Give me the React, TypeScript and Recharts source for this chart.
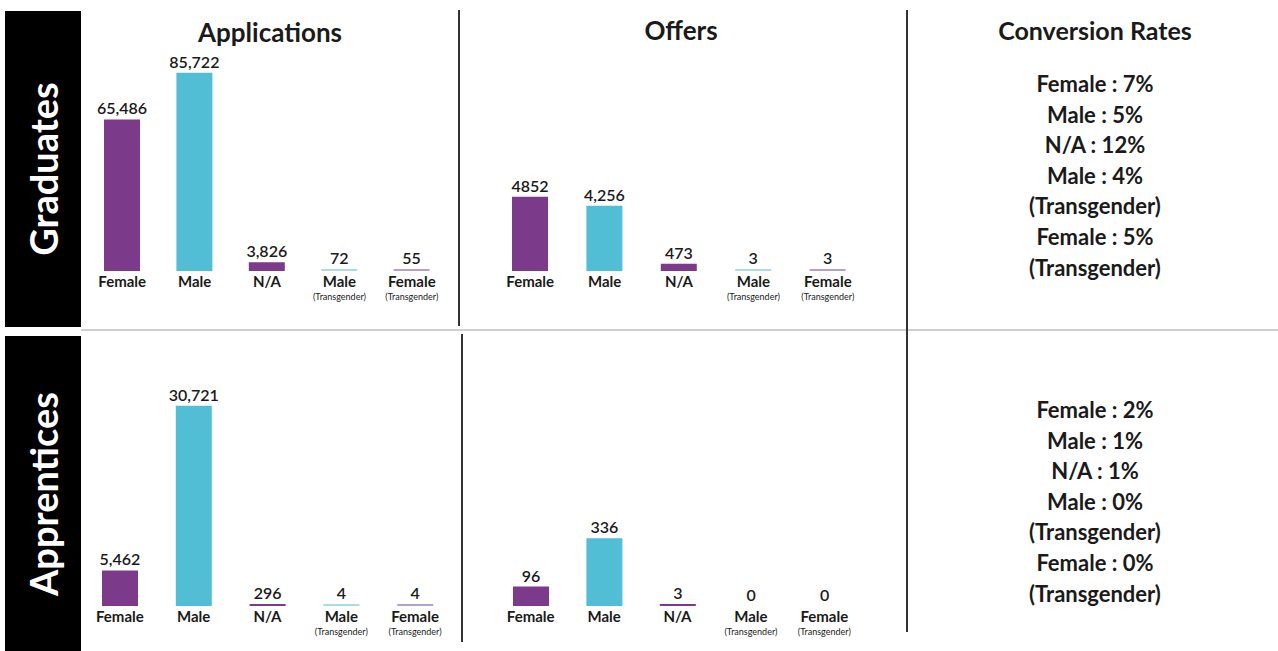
import { BarChart, Bar, XAxis, YAxis, Cell, LabelList } from 'recharts'

const categories = ['Female', 'Male', 'N/A', 'Male (Transgender)', 'Female (Transgender)']
const gradApplications = [65486, 85722, 3826, 72, 55]
const gradOffers = [4852, 4256, 473, 3, 3]
const apprApplications = [5462, 30721, 296, 4, 4]
const apprOffers = [96, 336, 3, 0, 0]
// the offers panel prints 4852 without a thousands separator
const gradOfferLabels = ['4852', '4,256', '473', '3', '3']

const gradRates = ['Female : 7%', 'Male : 5%', 'N/A : 12%', 'Male : 4%', '(Transgender)', 'Female : 5%', '(Transgender)']
const apprRates = ['Female : 2%', 'Male : 1%', 'N/A : 1%', 'Male : 0%', '(Transgender)', 'Female : 0%', '(Transgender)']

const barColors = ['#7b3b8a', '#52bed6', '#7b3b8a', '#a9dce6', '#b6a0c6']
const FONT = 'Lato, "Noto Sans", sans-serif'
const INK = '#1a1a1a'

function CategoryTick(props: any) {
  const { x, y, payload } = props
  const [main, sub] = String(payload.value).split(' (')
  return (
    <g transform={`translate(${x},${y})`}>
      <text textAnchor="middle" y={16} fontSize={15} fontWeight={700} fill={INK} fontFamily={FONT}>{main}</text>
      {sub && (
        <text textAnchor="middle" y={29} fontSize={9} fill={INK} fontFamily={FONT}>({sub}</text>
      )}
    </g>
  )
}

interface PanelProps {
  values: number[]
  labels?: string[]
  max: number
  left: number
  top: number
  width: number
  plotHeight: number
}

function Panel({ values, labels, max, left, top, width, plotHeight }: PanelProps) {
  const rows = categories.map((c, i) => ({
    name: c,
    value: values[i],
    label: labels ? labels[i] : values[i].toLocaleString('en-US'),
  }))
  const marginTop = 30
  return (
    <div style={{ position: 'absolute', left, top: top - marginTop }}>
      <BarChart
        width={width}
        height={marginTop + plotHeight + 40}
        data={rows}
        margin={{ top: marginTop, right: 0, bottom: 0, left: 0 }}
      >
        <XAxis
          dataKey="name"
          axisLine={false}
          tickLine={false}
          tickSize={0}
          tickMargin={0}
          height={40}
          interval={0}
          tick={<CategoryTick />}
        />
        <YAxis hide type="number" domain={[0, max]} allowDataOverflow />
        <Bar
          dataKey="value"
          barSize={36}
          isAnimationActive={false}
          minPointSize={(v: number) => (v > 0 ? 2 : 0.01)}
        >
          {rows.map((r, i) => (
            <Cell key={r.name} fill={r.value > 0 ? barColors[i] : 'transparent'} />
          ))}
          <LabelList
            dataKey="label"
            position="top"
            offset={5}
            fill={INK}
            fontSize={16}
            fontWeight={600}
            fontFamily={FONT}
          />
        </Bar>
      </BarChart>
    </div>
  )
}

function Side({ text, top }: { text: string; top: number }) {
  return (
    <div style={{ position: 'absolute', left: 5, top, width: 76, height: 316, background: '#000' }}>
      <div
        style={{
          position: 'absolute', left: 38, top: 158, transform: 'translate(-50%,-50%) rotate(-90deg)',
          color: '#fff', fontFamily: FONT, fontWeight: 700, fontSize: 38, whiteSpace: 'nowrap',
        }}
      >
        {text}
      </div>
    </div>
  )
}

function Rates({ lines, top }: { lines: string[]; top: number }) {
  return (
    <div style={{ position: 'absolute', left: 960, width: 270, top, textAlign: 'center', fontFamily: FONT, fontWeight: 700, fontSize: 22, lineHeight: '30.6px', color: INK }}>
      {lines.map((l, i) => <div key={i}>{l}</div>)}
    </div>
  )
}

const title = (text: string, cx: number, cy: number, size: number) => (
  <div style={{ position: 'absolute', left: cx - 150, width: 300, top: cy - size * 0.65, textAlign: 'center', fontFamily: FONT, fontWeight: 700, fontSize: size, color: INK }}>
    {text}
  </div>
)

export default function App() {
  return (
    <div style={{ position: 'fixed', left: 0, top: 0, width: 1278, height: 651, background: '#fff', overflow: 'hidden' }}>
      <Side text="Graduates" top={11} />
      <Side text="Apprentices" top={336} />

      <div style={{ position: 'absolute', left: 81, top: 329, width: 1197, height: 2, background: '#cfcfcf' }} />
      <div style={{ position: 'absolute', left: 458, top: 10, width: 2, height: 316, background: '#333' }} />
      <div style={{ position: 'absolute', left: 461, top: 334, width: 2, height: 308, background: '#333' }} />
      <div style={{ position: 'absolute', left: 906, top: 10, width: 2, height: 622, background: '#333' }} />

      {title('Applications', 270, 33, 26)}
      {title('Offers', 681, 31, 26)}
      {title('Conversion Rates', 1095, 31, 25)}

      <Panel values={gradApplications} max={86000} left={86} top={72} width={362} plotHeight={199} />
      <Panel values={gradOffers} labels={gradOfferLabels} max={13000} left={493} top={72} width={372} plotHeight={199} />
      <Panel values={apprApplications} max={31000} left={83} top={404} width={369} plotHeight={202} />
      <Panel values={apprOffers} max={1000} left={494} top={404} width={367} plotHeight={202} />

      <Rates lines={gradRates} top={69} />
      <Rates lines={apprRates} top={395} />
    </div>
  )
}
